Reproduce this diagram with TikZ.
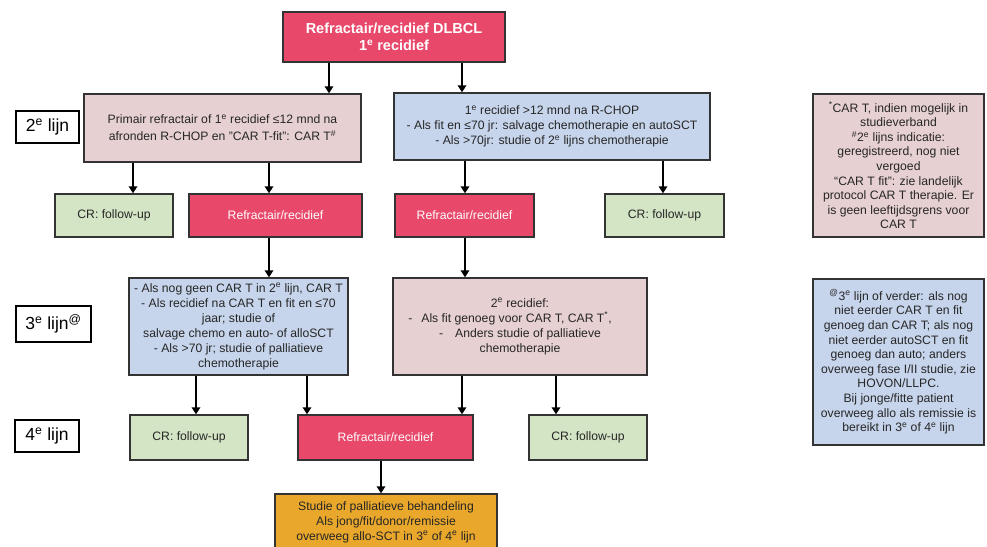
\documentclass[tikz,border=0pt]{standalone}
\usepackage{fontspec}
\setmainfont{Liberation Sans}
\usetikzlibrary{arrows.meta}

\definecolor{alarm}{HTML}{E8496B}
\definecolor{rosefill}{HTML}{E7D0D1}
\definecolor{bluefill}{HTML}{C7D5EC}
\definecolor{greenfill}{HTML}{D4E5C5}
\definecolor{orangefill}{HTML}{E9A72B}
\definecolor{edge}{HTML}{333333}
\definecolor{ink}{HTML}{262626}

\newcommand{\sups}[1]{\textsuperscript{#1}}

\tikzset{
  box/.style={draw=edge, line width=1.4pt, inner sep=0pt, align=center,
    font=\fontsize{12.2}{15}\selectfont, text=ink},
  alarmbox/.style={box, fill=alarm, text=white},
  rosebox/.style={box, fill=rosefill},
  bluebox/.style={box, fill=bluefill},
  greenbox/.style={box, fill=greenfill},
  orangebox/.style={box, fill=orangefill},
  notebox/.style={box, font=\fontsize{12.2}{14.6}\selectfont},
  linelabel/.style={draw=black, line width=1.1pt, fill=white, inner sep=0pt,
    font=\fontsize{17.5}{20}\selectfont, text=black},
  arr/.style={line width=1.9pt, draw=black, -{Triangle[length=7pt,width=8.5pt]}}
}

\begin{document}
\begin{tikzpicture}[x=1pt, y=-1pt]
\useasboundingbox[fill=white] (0,0) rectangle (987,546);

% start
\node[alarmbox, minimum width=222pt, minimum height=50pt,
  font=\bfseries\fontsize{14.5}{17}\selectfont] (top) at (394,37)
  {Refractair/recidief DLBCL\\1\sups{e} recidief};

% line labels
\node[linelabel, minimum width=63pt, minimum height=32pt] (lab2) at (47.5,127) {2\sups{e} lijn};
\node[linelabel, minimum width=75pt, minimum height=36pt] (lab3) at (53.5,324) {3\sups{e} lijn\sups{@}};
\node[linelabel, minimum width=64pt, minimum height=32pt] (lab4) at (47,436) {4\sups{e} lijn};

% second line
\node[rosebox, minimum width=277pt, minimum height=68pt, font=\fontsize{12.2}{17}\selectfont] (p2) at (222.5,128)
  {Primair refractair of 1\sups{e} recidief ≤12 mnd na\\afronden R-CHOP en "CAR T-fit": CAR T\sups{\#}};
\node[bluebox, minimum width=316pt, minimum height=67pt] (b2) at (552,126.5)
  {1\sups{e} recidief >12 mnd na R-CHOP\\
   - Als fit en ≤70 jr: salvage chemotherapie en autoSCT\\
   - Als >70jr: studie of 2\sups{e} lijns chemotherapie};

% outcomes after second line
\node[greenbox, minimum width=118pt, minimum height=43pt] (cr1) at (114,215.5) {CR: follow-up};
\node[alarmbox, minimum width=173pt, minimum height=43pt] (r1) at (275.5,215.5) {Refractair/recidief};
\node[alarmbox, minimum width=139pt, minimum height=43pt] (r2) at (464.5,215.5) {Refractair/recidief};
\node[greenbox, minimum width=119pt, minimum height=43pt] (cr2) at (664.5,215.5) {CR: follow-up};

% third line
\node[bluebox, minimum width=219pt, minimum height=97pt] (b3) at (238.5,326.5)
  {- Als nog geen CAR T in 2\sups{e} lijn, CAR T\\
   - Als recidief na CAR T en fit en ≤70\\
   jaar; studie of\\
   salvage chemo en auto- of alloSCT\\
   - Als >70 jr; studie of palliatieve\\
   chemotherapie};
\node[rosebox, minimum width=254pt, minimum height=97pt] (p3) at (520,326.5)
  {2\sups{e} recidief:\\
   \hspace*{-20pt}-\hspace{9pt}Als fit genoeg voor CAR T, CAR T\sups{*},\\
   -\hspace{12pt}Anders studie of palliatieve\\
   chemotherapie};

% outcomes after third line
\node[greenbox, minimum width=118pt, minimum height=45pt] (cr3) at (189,437.5) {CR: follow-up};
\node[alarmbox, minimum width=175pt, minimum height=45pt] (r3) at (385.5,437.5) {Refractair/recidief};
\node[greenbox, minimum width=118pt, minimum height=45pt] (cr4) at (588,437.5) {CR: follow-up};

% final step
\node[orangebox, minimum width=222pt, minimum height=56pt] (end) at (386,522)
  {Studie of palliatieve behandeling\\
   Als jong/fit/donor/remissie\\
   overweeg allo-SCT in 3\sups{e} of 4\sups{e} lijn};

% footnotes
\node[notebox, fill=rosefill, minimum width=171pt, minimum height=143pt] (note1) at (898.5,165.5)
  {\sups{*}CAR T, indien mogelijk in\\
   studieverband\\
   \sups{\#}2\sups{e} lijns indicatie:\\
   geregistreerd, nog niet\\
   vergoed\\
   “CAR T fit”: zie landelijk\\
   protocol CAR T therapie. Er\\
   is geen leeftijdsgrens voor\\
   CAR T};
\node[notebox, fill=bluefill, minimum width=171pt, minimum height=166pt] (note2) at (898.5,362)
  {\sups{@}3\sups{e} lijn of verder: als nog\\
   niet eerder CAR T en fit\\
   genoeg dan CAR T; als nog\\
   niet eerder autoSCT en fit\\
   genoeg dan auto; anders\\
   overweeg fase I/II studie, zie\\
   HOVON/LLPC.\\
   Bij jonge/fitte patient\\
   overweeg allo als remissie is\\
   bereikt in 3\sups{e} of 4\sups{e} lijn};

% connectors
\draw[arr] (top.south -| 329,0) -- (p2.north -| 329,0);
\draw[arr] (top.south -| 462,0) -- (b2.north -| 462,0);
\draw[arr] (p2.south -| 133,0) -- (cr1.north -| 133,0);
\draw[arr] (p2.south -| 269,0) -- (r1.north -| 269,0);
\draw[arr] (b2.south -| 465,0) -- (r2.north -| 465,0);
\draw[arr] (b2.south -| 663,0) -- (cr2.north -| 663,0);
\draw[arr] (r1.south -| 269,0) -- (b3.north -| 269,0);
\draw[arr] (r2.south -| 465,0) -- (p3.north -| 465,0);
\draw[arr] (b3.south -| 196,0) -- (cr3.north -| 196,0);
\draw[arr] (b3.south -| 307,0) -- (r3.north -| 307,0);
\draw[arr] (p3.south -| 462,0) -- (r3.north -| 462,0);
\draw[arr] (p3.south -| 556,0) -- (cr4.north -| 556,0);
\draw[arr] (r3.south -| 381,0) -- (end.north -| 381,0);
\end{tikzpicture}
\end{document}
